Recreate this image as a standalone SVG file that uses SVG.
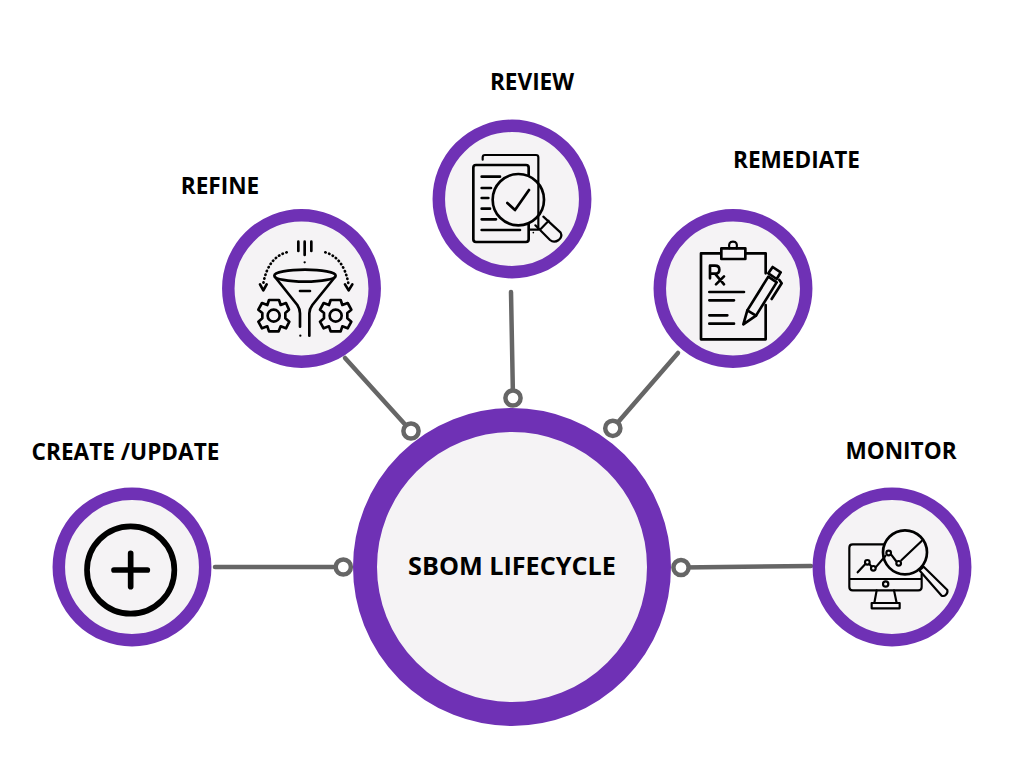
<svg xmlns="http://www.w3.org/2000/svg" width="1024" height="768" viewBox="0 0 1024 768">
  <style>
    .hub { fill: #f5f3f5; stroke: #6f31b5; stroke-width: 24; }
    .ring { fill: #f5f3f5; stroke: #6f31b5; stroke-width: 12.5; }
    .link { stroke: #666; stroke-width: 4.5; stroke-linecap: round; fill: none; }
    .dot { fill: #fff; stroke: #666; stroke-width: 4.5; }
    .ink { fill: none; stroke: #000; stroke-width: 8; stroke-linecap: round; stroke-linejoin: round; }
    .thin { stroke-width: 6.5; }
    .bold { stroke-width: 17; }
    .dash { stroke-dasharray: 1 11; stroke-width: 8; }
    text { font-family: "Open Sans", "Liberation Sans", sans-serif; font-weight: 700; fill: #000; }
    .label { font-size: 22.6px; }
    .title { font-size: 25.2px; }
  </style>

  <g id="connectors">
    <line class="link" x1="215" y1="567" x2="343" y2="567"/>
    <circle class="dot" cx="343.3" cy="567" r="7.6"/>
    <line class="link" x1="345" y1="358" x2="411" y2="431"/>
    <circle class="dot" cx="411" cy="431" r="7.6"/>
    <line class="link" x1="511" y1="292" x2="513" y2="398"/>
    <circle class="dot" cx="513" cy="398" r="7.6"/>
    <line class="link" x1="678" y1="353" x2="613" y2="428"/>
    <circle class="dot" cx="612.8" cy="428.3" r="7.6"/>
    <line class="link" x1="811" y1="566" x2="681" y2="567.5"/>
    <circle class="dot" cx="681" cy="567.5" r="7.6"/>
  </g>

  <g id="hub">
    <circle class="hub" cx="512" cy="567" r="147"/>
    <text class="title" x="512" y="575" text-anchor="middle">SBOM LIFECYCLE</text>
  </g>

  <g id="create">
    <circle class="ring" cx="132" cy="567" r="73.2"/>
    <g transform="translate(50 485) scale(.33333)">
      <circle class="ink bold" cx="242" cy="255" r="131"/>
      <path class="ink bold" d="M192 255H292M242 205V305"/>
    </g>
    <text class="label" x="125.5" y="460" text-anchor="middle">CREATE /UPDATE</text>
  </g>

  <g id="refine">
    <circle class="ring" cx="301.5" cy="288.5" r="73.2"/>
    <g transform="translate(220 205) scale(.33333)">
      <path class="ink" d="M235 110V138M254 110V150M274 110V138"/>
      <circle cx="254" cy="172" r="3.5"/>
      <path class="ink dash" d="M200 142C165 152 140 180 130 235"/>
      <path class="ink dash" d="M316 142C350 152 375 180 385 235"/>
      <path class="ink" d="M120 238L130 256L140 238M375 238L386 256L397 238"/>
      <ellipse class="ink" cx="255" cy="212" rx="92" ry="18"/>
      <path class="ink" d="M165 216L232 300Q240 312 240 325V365M345 216L277 300Q268 312 268 325V392M240 258H270"/>
      <circle cx="241" cy="392" r="3.5"/>
      <path class="ink" d="M147 285H177L182 300L198 294L207 314L196 324V340L208 350L198 370L182 364L176 379H147L142 364L126 370L115 350L127 340V324L115 314L126 294L142 300Z"/>
      <circle class="ink" cx="161" cy="332" r="18"/>
      <path class="ink" d="M332 285H362L367 300L383 294L394 314L382 324V340L394 350L383 370L367 364L362 379H332L327 364L311 370L300 350L312 340V324L300 314L311 294L327 300Z"/>
      <circle class="ink" cx="347" cy="332" r="18"/>
    </g>
    <text class="label" x="220" y="194" text-anchor="middle">REFINE</text>
  </g>

  <g id="review">
    <circle class="ring" cx="512" cy="199" r="73.2"/>
    <g transform="translate(430 118) scale(.33333)">
      <path class="ink thin" d="M158 125V118Q158 111 165 111H318Q325 111 325 118V335H298"/>
      <path class="ink" d="M205 141H288Q296 141 296 149V172M296 318V364Q296 372 288 372H138Q130 372 130 364V149Q130 141 138 141H205"/>
      <path class="ink" d="M155 176H210M155 210H183M155 240H175M155 272H180M155 304H198M155 336H270"/>
      <circle class="ink" cx="265" cy="245" r="77"/>
      <path class="ink" d="M232 255L255 276L297 216"/>
      <path class="ink thin" d="M340 296L392 344Q398 356 386 366Q372 376 360 366L316 322M330 335L356 308"/>
      <circle cx="310" cy="344" r="2.5"/>
    </g>
    <text class="label" x="532" y="90" text-anchor="middle">REVIEW</text>
  </g>

  <g id="remediate">
    <circle class="ring" cx="733" cy="288.5" r="73.2"/>
    <g transform="translate(650 205) scale(.33333)">
      <path class="ink" d="M212 145H153V403H347V300M347 205V145H288"/>
      <rect class="ink" x="214" y="130" width="72" height="32"/>
      <path class="ink thin" d="M238 130Q234 110 249 110Q264 110 260 130"/>
      <path class="ink" d="M180 220V182H195Q208 182 208 194Q208 206 195 206H180M195 206L222 238M222 214L198 238"/>
      <path class="ink" d="M178 261H282M178 286H252M178 331H232M178 356H252"/>
      <path class="ink" d="M280 358L292 316L355 215L380 232L318 332Z"/>
      <path class="ink" d="M355 205L368 186L392 202L380 222ZM292 316L318 332M388 225L395 235L365 282"/>
    </g>
    <text class="label" x="796.5" y="168" text-anchor="middle">REMEDIATE</text>
  </g>

  <g id="monitor">
    <circle class="ring" cx="892" cy="567" r="73.2"/>
    <g transform="translate(810 485) scale(.33333)">
      <path class="ink thin" d="M222 178H128Q118 178 118 188V306Q118 316 128 316H325Q335 316 335 306V268M118 282H335"/>
      <circle class="ink thin" cx="227" cy="297" r="8"/>
      <path class="ink thin" d="M200 316L193 354M252 316L260 354"/>
      <rect class="ink thin" x="185" y="354" width="84" height="16"/>
      <path class="ink thin" d="M143 262L166 237M178 237L184 244M197 247L226 213M243 208L258 228M274 226L335 168"/>
      <circle class="ink thin" cx="172" cy="232" r="7"/>
      <circle class="ink thin" cx="190" cy="250" r="7"/>
      <circle class="ink thin" cx="236" cy="204" r="7"/>
      <circle class="ink thin" cx="266" cy="235" r="7"/>
      <circle class="ink" cx="285" cy="202" r="66"/>
      <path class="ink thin" d="M328 256L341 245L412 315Q414 324 408 329Q402 335 395 332Z"/>
    </g>
    <text class="label" x="901" y="459" text-anchor="middle">MONITOR</text>
  </g>
</svg>
